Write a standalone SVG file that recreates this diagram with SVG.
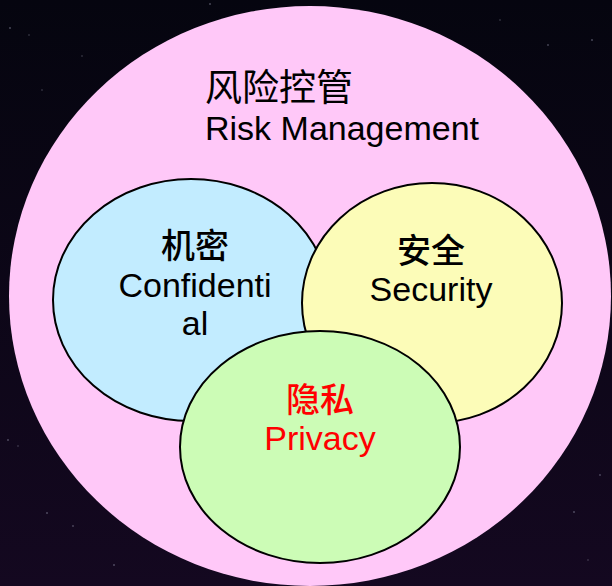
<svg xmlns="http://www.w3.org/2000/svg" width="612" height="586" viewBox="0 0 612 586">
  <defs>
    <linearGradient id="bg" x1="0" y1="0" x2="0" y2="1">
      <stop offset="0" stop-color="#05050f"/>
      <stop offset="1" stop-color="#140820"/>
    </linearGradient>
  </defs>
  <style>
    .set { stroke: #000; stroke-width: 2; }
    .lat { font-family: "Liberation Sans", Arial, sans-serif; font-size: 34px; fill: #000; }
    .cjk { font-family: "Noto Sans CJK SC", "Noto Sans CJK TC", sans-serif; font-size: 34px; font-weight: 500; fill: #000; }
    .title { font-size: 37px; font-weight: normal; }
    .mid { text-anchor: middle; }
    .red { fill: #ff0000; }
    .star { fill: #9a98b0; opacity: 0.45; }
  </style>
  <rect x="0" y="0" width="612" height="586" fill="url(#bg)"/>
  <g id="stars">
    <circle class="star" cx="10" cy="28" r="1"/>
    <circle class="star" cx="29" cy="35" r="0.8"/>
    <circle class="star" cx="82" cy="56" r="0.8"/>
    <circle class="star" cx="42" cy="90" r="0.8"/>
    <circle class="star" cx="210" cy="4" r="1"/>
    <circle class="star" cx="500" cy="20" r="0.8"/>
    <circle class="star" cx="548" cy="45" r="0.9"/>
    <circle class="star" cx="592" cy="40" r="1"/>
    <circle class="star" cx="8" cy="440" r="1"/>
    <circle class="star" cx="18" cy="446" r="0.8"/>
    <circle class="star" cx="47" cy="513" r="1"/>
    <circle class="star" cx="73" cy="526" r="0.9"/>
    <circle class="star" cx="114" cy="565" r="1"/>
    <circle class="star" cx="600" cy="475" r="0.9"/>
    <circle class="star" cx="574" cy="512" r="1"/>
    <circle class="star" cx="588" cy="560" r="0.8"/>
  </g>
  <g id="risk">
    <ellipse cx="310" cy="296" rx="301" ry="290" fill="#ffc8f8"/>
    <text class="cjk title" x="205" y="101">风险控管</text>
    <text class="lat" x="205" y="140" font-size="34.5">Risk Management</text>
  </g>
  <g id="confidential">
    <ellipse class="set" cx="191" cy="300" rx="138" ry="121" fill="#c2ecff"/>
    <text class="cjk mid" x="195" y="258">机密</text>
    <text class="lat mid" x="195" y="297">Confidenti</text>
    <text class="lat mid" x="195" y="335">al</text>
  </g>
  <g id="security">
    <ellipse class="set" cx="432" cy="303" rx="130" ry="120" fill="#fcfcb8"/>
    <text class="cjk mid" x="431" y="263">安全</text>
    <text class="lat mid" x="431" y="301">Security</text>
  </g>
  <g id="privacy">
    <ellipse class="set" cx="320" cy="447" rx="140" ry="116" fill="#ccfcb6"/>
    <text class="cjk mid red" x="320" y="412">隐私</text>
    <text class="lat mid red" x="320" y="450">Privacy</text>
  </g>
  <g id="connectors"/>
</svg>
